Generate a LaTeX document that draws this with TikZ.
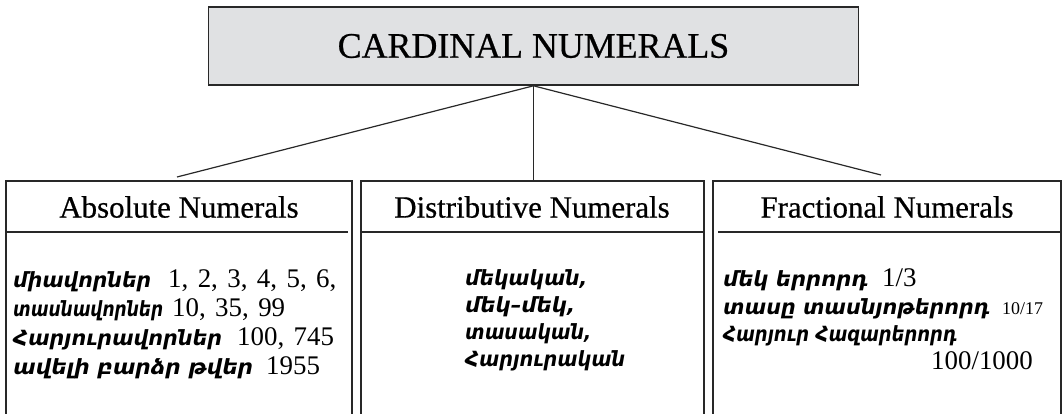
\documentclass[tikz,border=0pt]{standalone}
\usepackage{graphicx}
\usepackage{fontspec}
\setmainfont{Liberation Serif}
\newfontfamily\headfont{Liberation Serif}[FakeBold=0.6]
\newfontfamily\armfont{DejaVu Sans}
\definecolor{boxgray}{RGB}{224,225,227}
\definecolor{ink}{RGB}{40,40,40}
% set a word to a given width, keeping its height
\newcommand{\fitto}[2]{\resizebox{#1}{\height}{#2}}
\newcommand{\gap}{\hspace{.35em}}
\begin{document}
\begin{tikzpicture}[x=1bp,y=-1bp,
  frame/.style={draw=ink, line width=1.6bp},
  link/.style={draw=ink, line width=1.2bp},
  title/.style={draw=ink, line width=1.6bp, fill=boxgray, minimum width=650bp, minimum height=78bp, inner sep=0pt, font=\headfont\fontsize{36}{40}\selectfont},
  head/.style={inner sep=0pt, font=\headfont\fontsize{31}{36}\selectfont},
  arm/.style={anchor=base west, inner sep=0pt, font=\armfont\bfseries\itshape\fontsize{21}{25}\selectfont},
  num/.style={anchor=base west, inner sep=0pt, font=\fontsize{27}{30}\selectfont},
  smallnum/.style={num, font=\fontsize{18}{22}\selectfont}]
\useasboundingbox (0,0) rectangle (1062,413);

% title box
\node[title] (top) at (533.5,46) {CARDINAL NUMERALS};

% the three open boxes
\draw[frame] (6,415) -- (6,181) -- (352,181) -- (352,415);
\draw[frame] (361,415) -- (361,181) -- (704,181) -- (704,415);
\draw[frame] (713,415) -- (713,181) -- (1061,181) -- (1061,415);
\draw[frame] (6,232) -- (348,232);
\draw[frame] (361,232) -- (704,232);
\draw[frame] (718,232) -- (1061,232);

% connectors
\coordinate (e1) at (177,177);
\coordinate (e2) at (533.5,181);
\coordinate (e3) at (881,175);
\draw[link] (top.south) -- (e1);
\draw[link] (top.south) -- (e2);
\draw[link] (top.south) -- (e3);

% headings
\node[head] (h1) at (179,207) {Absolute Numerals};
\node[head] (h2) at (532,207) {Distributive Numerals};
\node[head] (h3) at (887,207) {Fractional Numerals};

% absolute numerals
\node[arm] (a1) at (13,287) {\fitto{138bp}{միավորներ}};
\node[num] (n1) at (168,287) {1,\gap 2,\gap 3,\gap 4,\gap 5,\gap 6,};
\node[arm] (a2) at (13,316) {\fitto{150bp}{տասնավորներ}};
\node[num] (n2) at (172,316) {10,\gap 35,\gap 99};
\node[arm] (a3) at (13,345) {\fitto{209bp}{Հարյուրավորներ}};
\node[num] (n3) at (237,345) {100,\gap 745};
\node[arm] (a4) at (13,374) {\fitto{240bp}{ավելի բարձր թվեր}};
\node[num] (n4) at (266,374) {1955};

% distributive numerals
\node[arm] (d1) at (465,285) {\fitto{122bp}{մեկական,}};
\node[arm] (d2) at (465,312) {\fitto{110bp}{մեկ–մեկ,}};
\node[arm] (d3) at (465,339) {\fitto{126bp}{տասական,}};
\node[arm] (d4) at (465,366) {\fitto{160bp}{Հարյուրական}};

% fractional numerals
\node[arm] (f1) at (723,286) {\fitto{145bp}{մեկ երրորդ}};
\node[num] (g1) at (882,286) {1/3};
\node[arm] (f2) at (723,314) {\fitto{267bp}{տասը տասնյոթերորդ}};
\node[smallnum] (g2) at (1002,314) {10/17};
\node[arm] (f3) at (723,341) {\fitto{234bp}{Հարյուր Հազարերորդ}};
\node[num, anchor=base east] (g3) at (1033,369) {100/1000};
\end{tikzpicture}
\end{document}
